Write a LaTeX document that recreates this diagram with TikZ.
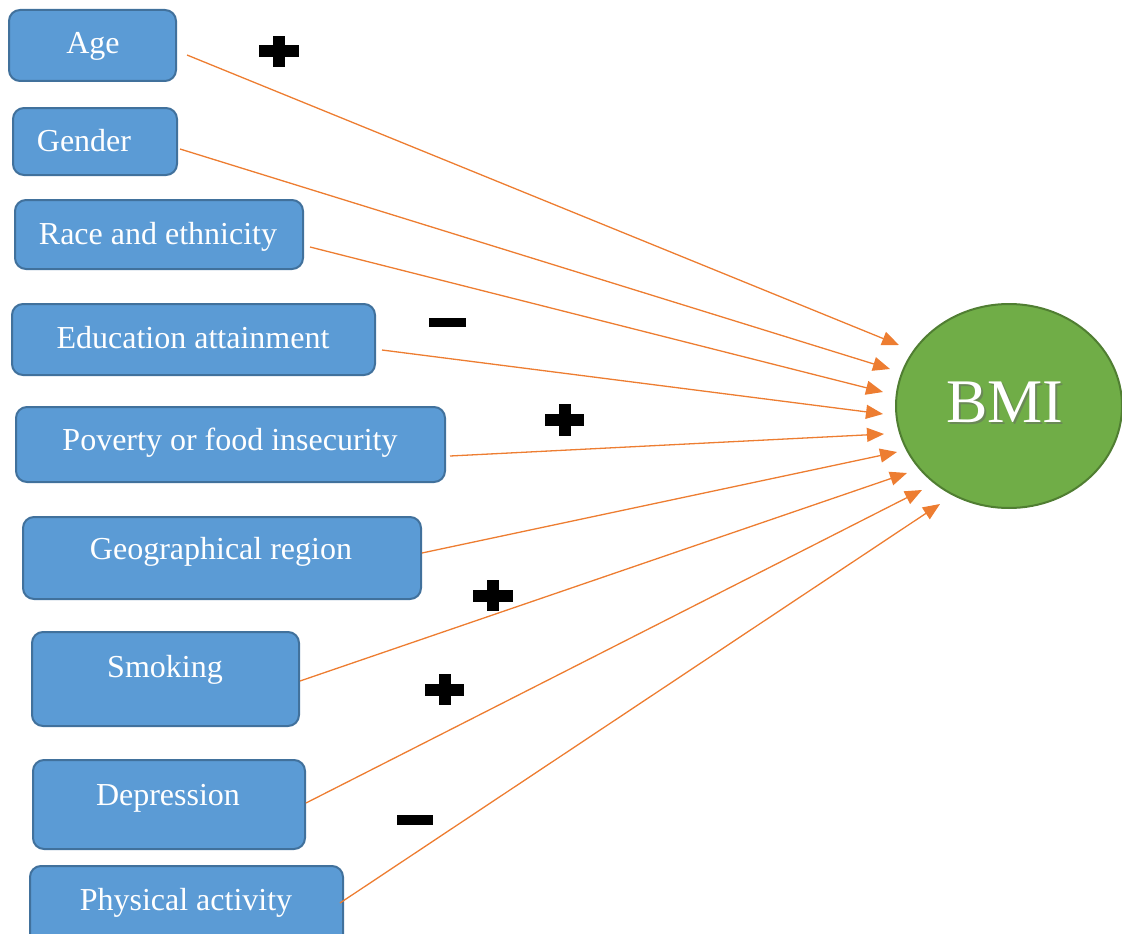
\documentclass[tikz,border=0pt]{standalone}
\usepackage{fontspec}
\setmainfont{Liberation Serif}
\usetikzlibrary{arrows.meta,shapes.geometric}
\definecolor{boxfill}{HTML}{5B9BD5}
\definecolor{boxline}{HTML}{41719C}
\definecolor{bmifill}{HTML}{70AD47}
\definecolor{bmiline}{HTML}{507E32}
\definecolor{arr}{HTML}{ED7D31}
\tikzset{
  box/.style={draw=boxline, fill=boxfill, line width=2pt, rounded corners=11pt, inner sep=0pt},
  lbl/.style={text=white, anchor=base, inner sep=0pt, font=\fontsize{32}{38}\selectfont},
  conn/.style={draw=arr, line width=1.3pt, -{Triangle[length=17pt,width=14pt]}},
  sign/.style={fill=black},
}
\begin{document}
\begin{tikzpicture}[x=1pt,y=-1pt]
\useasboundingbox (0,0) rectangle (1122,934);
% boxes
\node[box, minimum width=167pt, minimum height=71pt] (age) at (92.5,45.5) {};
\node[box, minimum width=164pt, minimum height=67pt] (gen) at (95,141.5) {};
\node[box, minimum width=288pt, minimum height=69pt] (race) at (159,234.5) {};
\node[box, minimum width=363pt, minimum height=71pt] (edu) at (193.5,339.5) {};
\node[box, minimum width=429pt, minimum height=75pt] (pov) at (230.5,444.5) {};
\node[box, minimum width=398pt, minimum height=82pt] (geo) at (222,558) {};
\node[box, minimum width=267pt, minimum height=94pt] (smk) at (165.5,679) {};
\node[box, minimum width=272pt, minimum height=89pt] (dep) at (169,804.5) {};
\node[box, minimum width=313pt, minimum height=80pt] (phy) at (186.5,906) {};
% labels
\node[lbl] (tage) at (93,54) {Age};
\node[lbl] (tgen) at (84,151) {Gender};
\node[lbl] (trace) at (158,244) {Race and ethnicity};
\node[lbl] (tedu) at (193,348) {Education attainment};
\node[lbl] (tpov) at (230,450) {Poverty or food insecurity};
\node[lbl] (tgeo) at (221,559) {Geographical region};
\node[lbl] (tsmk) at (165,677) {Smoking};
\node[lbl] (tdep) at (168,805) {Depression};
\node[lbl] (tphy) at (186,910) {Physical activity};
% BMI
\node[draw=bmiline, fill=bmifill, line width=2pt, ellipse, minimum width=226pt, minimum height=204pt, inner sep=0pt] (bmi) at (1009,406) {};
\node[text=black!60, anchor=base, inner sep=0pt, font=\fontsize{62}{70}\selectfont, opacity=0.5] (sbmi) at (1007,424) {BMI};
\node[text=white, anchor=base, inner sep=0pt, font=\fontsize{62}{70}\selectfont] (tbmi) at (1005,422) {BMI};
% connector ends
\coordinate (s1) at (187,55);  \coordinate (e1) at (899,345);
\coordinate (s2) at (180,149); \coordinate (e2) at (890,369);
\coordinate (s3) at (310,247); \coordinate (e3) at (883,392);
\coordinate (s4) at (382,350); \coordinate (e4) at (883,414);
\coordinate (s5) at (450,456); \coordinate (e5) at (884,434);
\coordinate (s6) at (422,553); \coordinate (e6) at (897,452);
\coordinate (s7) at (300,681); \coordinate (e7) at (907,473);
\coordinate (s8) at (306,803); \coordinate (e8) at (922,490);
\coordinate (s9) at (340,903); \coordinate (e9) at (940,504);
\foreach \i in {1,...,9} { \draw[conn] (s\i) -- (e\i); }
% signs
\fill[sign] (259,45) rectangle (299,57); \fill[sign] (273,36) rectangle (285,67);
\fill[sign] (545,414) rectangle (584,426); \fill[sign] (559,404) rectangle (571,436);
\fill[sign] (473,590) rectangle (513,602); \fill[sign] (487,580) rectangle (499,611);
\fill[sign] (425,684) rectangle (464,696); \fill[sign] (439,674) rectangle (451,705);
\fill[sign] (429,318) rectangle (466,327);
\fill[sign] (397,815) rectangle (433,825);
\end{tikzpicture}
\end{document}
